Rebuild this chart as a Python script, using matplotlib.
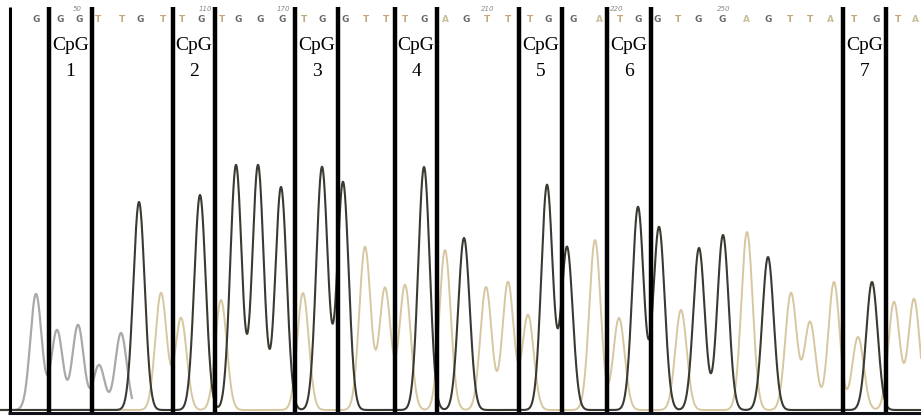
import numpy as np
import matplotlib
matplotlib.use("Agg")
import matplotlib.pyplot as plt

# ---- data (scan position, signal) ----
gray_pos = [36, 57, 78, 99, 121]
gray_h = [116, 80, 85, 45, 77]

dark_pos = [139, 200, 236, 258, 281, 322, 343, 424, 464, 547, 567, 638, 659, 699, 723, 768, 872]
dark_h = [208, 215, 245, 245, 223, 243, 228, 243, 172, 225, 163, 203, 183, 162, 175, 153, 128]

tan_pos = [161, 181, 221, 303, 365, 385, 405, 445, 486, 508, 528, 595, 619, 681, 747, 791, 810, 834, 858, 894, 914]
tan_h = [117, 92, 110, 117, 163, 122, 125, 160, 123, 128, 95, 170, 92, 100, 178, 117, 88, 128, 73, 108, 111]

base_pos = [36, 60, 79, 98, 122, 140, 163, 182, 201, 222, 238, 260, 282, 304,
            322, 345, 366, 386, 405, 424, 445, 466, 487, 508, 530, 548, 573, 599,
            620, 638, 657, 678, 698, 722, 746, 768, 790, 810, 830, 854, 876, 898, 915]
base_calls = list("GGGTTGTTGTGGGT" "GGTTTGAGTTTGGA" "TGGTGGAGTTATGTA")

pos_labels = ["50", "110", "170", "210", "220", "250"]
pos_label_x = [77, 205, 283, 488, 617, 724]

cpg_names = ["1", "2", "3", "4", "5", "6", "7"]
cpg_left = [49, 173, 295, 395, 519, 607, 843]
cpg_right = [92, 215, 338, 437, 562, 651, 886]

# ---- figure ----
fig = plt.figure(figsize=(9.21, 4.18), dpi=100)
ax = fig.add_axes([0, 0, 1, 1])
ax.set_xlim(0, 921)
ax.set_ylim(-8, 410)
ax.axis("off")

x = np.linspace(0, 921, 4000)
sig = 5.7


def trace(pos, h):
    y = np.zeros_like(x)
    for p, v in zip(pos, h):
        y += v * np.exp(-(x - p) ** 2 / (2 * sig ** 2))
    return y


ax.plot(x, trace(tan_pos, tan_h), color="#d6c7a0", lw=1.4, zorder=2)
gmask = x < 132
ax.plot(x[gmask], trace(gray_pos, gray_h)[gmask], color="#a9a9a6", lw=1.6, zorder=2)
ax.plot(x, trace(dark_pos, dark_h), color="#3a3a33", lw=1.5, zorder=3)

# CpG boxes
ax.vlines([10], -3, 403, color="black", lw=2.2, zorder=4)
ax.vlines(cpg_left + cpg_right, -3, 403, color="black", lw=3.2, zorder=4)
ax.hlines(-3, 8, 921, color="#101018", lw=2.2, zorder=4)

for l, r, n in zip(cpg_left, cpg_right, cpg_names):
    c = (l + r) / 2
    ax.text(c, 410 - 46, "CpG", ha="center", va="center", fontsize=14,
            family="Liberation Serif", color="black", zorder=5)
    ax.text(c, 410 - 71, n, ha="center", va="center", fontsize=14,
            family="Liberation Serif", color="black", zorder=5)

base_colors = {"G": "#6b6b66", "T": "#c4a77a", "A": "#cbbf98"}
for p, b in zip(base_pos, base_calls):
    ax.text(p, 410 - 20, b, ha="center", va="center", fontsize=6.5,
            fontweight="bold", color=base_colors[b], zorder=5)

for p, s in zip(pos_label_x, pos_labels):
    ax.text(p, 410 - 9, s, ha="center", va="center", fontsize=5,
            style="italic", color="#8a8a80", zorder=5)

fig.savefig("out.png", dpi=100)
